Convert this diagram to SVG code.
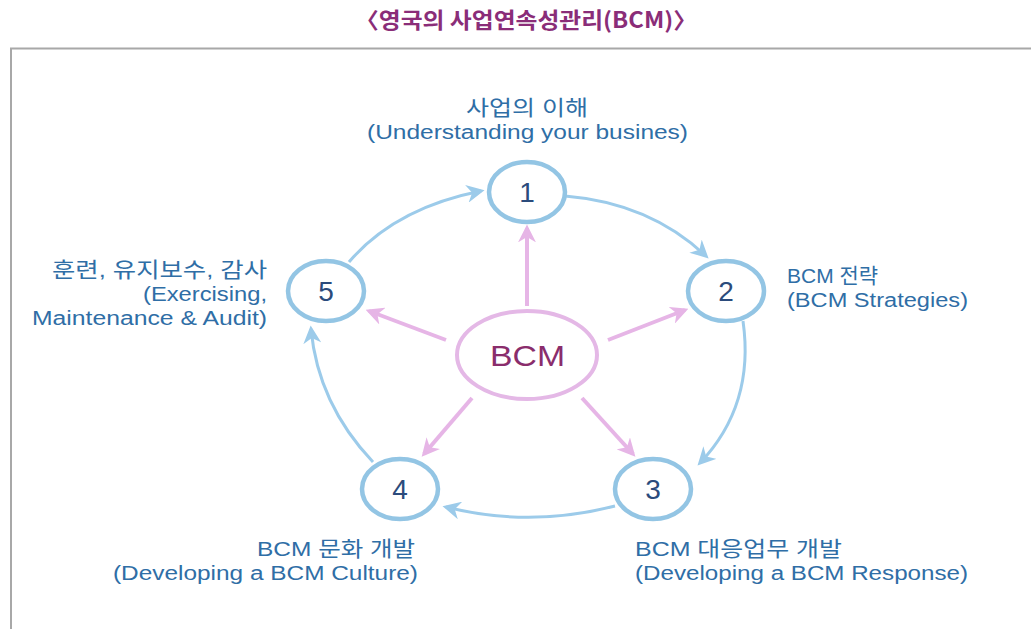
<svg xmlns="http://www.w3.org/2000/svg" width="1031" height="629" viewBox="0 0 1031 629">
  <style>
    .title { font-family: "Noto Sans CJK KR", "Liberation Sans", sans-serif; font-size: 22px; font-weight: bold; fill: #8a2d78; }
    .lbl { font-family: "Liberation Sans", "Noto Sans CJK KR", sans-serif; font-size: 20px; fill: #2f6ea6; }
    .ko { font-size: 21px; }
    .num { font-family: "Liberation Sans", sans-serif; font-size: 28px; fill: #2b4b7c; text-anchor: middle; }
    .step { fill: #ffffff; stroke: #93c5e4; stroke-width: 4.5; }
    .hub { fill: #ffffff; stroke: #e4b8e6; stroke-width: 4; }
    .hubtxt { font-family: "Liberation Sans", sans-serif; font-size: 30px; fill: #8a2d6c; }
    .cycle { fill: none; stroke: #9ccbea; stroke-width: 3; }
    .spoke { fill: none; stroke: #e6b5e6; stroke-width: 4; }
  </style>
  <defs>
    <marker id="arrBlue" viewBox="0 0 10 10" refX="8" refY="5" markerWidth="18" markerHeight="18" markerUnits="userSpaceOnUse" orient="auto">
      <path d="M0,0 L10,5 L0,10 L3,5 z" fill="#9ccbea"/>
    </marker>
    <marker id="arrPink" viewBox="0 0 10 10" refX="8" refY="5" markerWidth="18" markerHeight="18" markerUnits="userSpaceOnUse" orient="auto">
      <path d="M0,0 L10,5 L0,10 L3,5 z" fill="#e6b5e6"/>
    </marker>
  </defs>

  <rect width="1031" height="629" fill="#ffffff"/>

  <!-- title -->
  <text class="title" x="355" y="28" textLength="342" lengthAdjust="spacingAndGlyphs">〈영국의 사업연속성관리(BCM)〉</text>

  <!-- frame -->
  <path d="M11,640 L11,48.5 L1040,48.5" fill="none" stroke="#a8a8a8" stroke-width="2"/>

  <!-- connectors -->
  <g id="connectors">
    <path class="cycle" d="M565,196 Q650,203 706,256" marker-end="url(#arrBlue)"/>
    <path class="cycle" d="M743,321 Q755,405 700,463" marker-end="url(#arrBlue)"/>
    <path class="cycle" d="M615,506 Q530,528 446,507" marker-end="url(#arrBlue)"/>
    <path class="cycle" d="M373,462 Q318,404 311,329" marker-end="url(#arrBlue)"/>
    <path class="cycle" d="M349,262 Q395,208 481,191" marker-end="url(#arrBlue)"/>

    <path class="spoke" d="M527,306 L527,228" marker-end="url(#arrPink)"/>
    <path class="spoke" d="M608,340 L685,310" marker-end="url(#arrPink)"/>
    <path class="spoke" d="M582,398 L633,454" marker-end="url(#arrPink)"/>
    <path class="spoke" d="M472,398 L424,454" marker-end="url(#arrPink)"/>
    <path class="spoke" d="M446,340 L369,311" marker-end="url(#arrPink)"/>
  </g>

  <!-- hub -->
  <g id="bcm">
    <ellipse class="hub" cx="527" cy="355" rx="70" ry="44"/>
    <text class="hubtxt" x="490" y="366" textLength="75" lengthAdjust="spacingAndGlyphs">BCM</text>
  </g>

  <g id="step1">
    <ellipse class="step" cx="527" cy="192" rx="38" ry="30"/>
    <text class="num" x="527" y="202">1</text>
    <text class="lbl ko" x="466" y="115" textLength="122" lengthAdjust="spacingAndGlyphs">사업의 이해</text>
    <text class="lbl" x="367" y="139" textLength="321" lengthAdjust="spacingAndGlyphs">(Understanding your busines)</text>
  </g>

  <g id="step2">
    <ellipse class="step" cx="726" cy="291" rx="38" ry="30"/>
    <text class="num" x="726" y="301">2</text>
    <text class="lbl ko" x="787" y="283" textLength="91" lengthAdjust="spacingAndGlyphs">BCM 전략</text>
    <text class="lbl" x="787" y="307" textLength="181" lengthAdjust="spacingAndGlyphs">(BCM Strategies)</text>
  </g>

  <g id="step3">
    <ellipse class="step" cx="653" cy="489" rx="38" ry="30"/>
    <text class="num" x="653" y="499">3</text>
    <text class="lbl ko" x="635" y="556" textLength="207" lengthAdjust="spacingAndGlyphs">BCM 대응업무 개발</text>
    <text class="lbl" x="635" y="580" textLength="333" lengthAdjust="spacingAndGlyphs">(Developing a BCM Response)</text>
  </g>

  <g id="step4">
    <ellipse class="step" cx="400" cy="489" rx="38" ry="30"/>
    <text class="num" x="400" y="499">4</text>
    <text class="lbl ko" x="257" y="556" textLength="158" lengthAdjust="spacingAndGlyphs">BCM 문화 개발</text>
    <text class="lbl" x="113" y="580" textLength="305" lengthAdjust="spacingAndGlyphs">(Developing a BCM Culture)</text>
  </g>

  <g id="step5">
    <ellipse class="step" cx="326" cy="291" rx="38" ry="30"/>
    <text class="num" x="326" y="301">5</text>
    <text class="lbl ko" x="52" y="277" textLength="215" lengthAdjust="spacingAndGlyphs">훈련, 유지보수, 감사</text>
    <text class="lbl" x="143" y="301" textLength="124" lengthAdjust="spacingAndGlyphs">(Exercising,</text>
    <text class="lbl" x="32" y="325" textLength="235" lengthAdjust="spacingAndGlyphs">Maintenance &amp; Audit)</text>
  </g>
</svg>
